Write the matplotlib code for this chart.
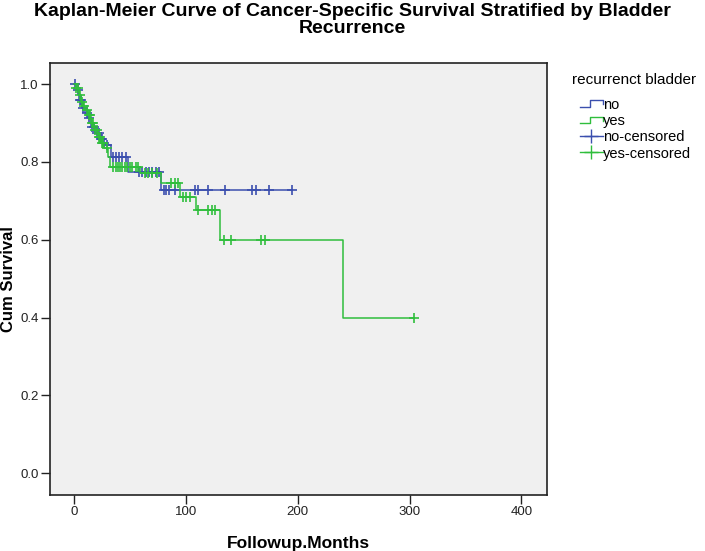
import numpy as np
import matplotlib.pyplot as plt
from matplotlib.lines import Line2D
from matplotlib.legend_handler import HandlerBase

plt.rcParams['font.family'] = ['Liberation Sans', 'DejaVu Sans']

# event times (months) and survival after each step
event_no = [2, 4, 7, 10, 12, 15, 19, 23, 26, 28, 33, 48, 78]
surv_no = [0.985, 0.96, 0.94, 0.925, 0.912, 0.89, 0.874, 0.86, 0.85, 0.843, 0.812, 0.775, 0.728]
cens_no = [1, 3, 5, 6, 8, 11, 13, 16, 18, 20, 22, 24, 25, 27, 29, 35, 37, 40, 43, 46,
           58, 61, 64, 67, 70, 73, 76, 80, 82, 85, 90, 108, 111, 120, 135, 159, 163, 174, 195]

event_yes = [1.5, 4, 6, 8, 10, 12, 15, 18, 21, 24, 27, 30, 32, 59, 78, 95, 109, 130, 240]
surv_yes = [0.99, 0.972, 0.955, 0.945, 0.934, 0.92, 0.9, 0.882, 0.865, 0.85, 0.835, 0.813,
            0.788, 0.771, 0.745, 0.71, 0.676, 0.60, 0.40]
cens_yes = [2, 3, 5, 7, 9, 11, 13, 14, 16, 17, 19, 20, 22, 23, 25, 26, 29, 35, 37, 39, 41,
            43, 45, 47, 50, 52, 55, 57, 63, 66, 70, 74, 87, 90, 93, 97, 100, 104, 111, 120,
            123, 126, 134, 140, 167, 171, 304]

c_no = '#3b4fae'
c_yes = '#2fbe3c'


def km_curve(events, surv, cens):
    s_all = np.array([1.0] + list(surv))
    t_end = max(max(cens), max(events))
    x = np.array([0.0] + list(events) + [t_end])
    y = np.append(s_all, s_all[-1])
    cy = s_all[np.searchsorted(events, cens, side='right')]
    return x, y, np.array(cens), cy


class StepHandler(HandlerBase):
    def create_artists(self, legend, orig_handle, xdescent, ydescent,
                       width, height, fontsize, trans):
        w, h = width, height
        x0 = -xdescent
        xs = [x0, x0 + 0.45 * w, x0 + 0.45 * w, x0 + w, x0 + w]
        ys = [0.2 * h, 0.2 * h, 0.85 * h, 0.85 * h, 0.45 * h]
        ln = Line2D(xs, ys, color=orig_handle.get_color(), lw=1.0, transform=trans)
        return [ln]


fig = plt.figure(figsize=(7.05, 5.51), dpi=100)
ax = fig.add_axes([0.0704, 0.1025, 0.7056, 0.7835])
ax.set_facecolor('#f0f0f0')

for ev, sv, cs, col in [(event_no, surv_no, cens_no, c_no), (event_yes, surv_yes, cens_yes, c_yes)]:
    x, y, cx, cy = km_curve(ev, sv, cs)
    ax.step(x, y, where='post', color=col, lw=1.1)
    ax.plot(cx, cy, ls='none', marker='+', color=col, markersize=6.5, markeredgewidth=1.2)

ax.set_xlim(-22, 423)
ax.set_ylim(-0.055, 1.055)
ax.set_xticks([0, 100, 200, 300, 400])
ax.set_yticks([0.0, 0.2, 0.4, 0.6, 0.8, 1.0])
ax.set_yticklabels(['%.1f' % v for v in [0.0, 0.2, 0.4, 0.6, 0.8, 1.0]])
ax.tick_params(direction='out', length=6.5, width=1, colors='#222222', labelsize=9.5, pad=1.5)
for sp in ax.spines.values():
    sp.set_color('#222222')
    sp.set_linewidth(1.2)

ax.set_xlabel('Followup.Months', fontsize=12.5, fontweight='bold', labelpad=13)
ax.set_ylabel('Cum Survival', fontsize=12, fontweight='bold', labelpad=3)

fig.text(0.5, 1 - 3 / 551, 'Kaplan-Meier Curve of Cancer-Specific Survival Stratified by Bladder\nRecurrence',
         ha='center', va='top', fontsize=14, fontweight='bold', linespacing=1.0)

fig.text(572 / 705, 1 - 80 / 551, 'recurrenct bladder', fontsize=11, va='center', ha='left')
handles = [Line2D([], [], color=c_no), Line2D([], [], color=c_yes),
           Line2D([], [], color=c_no, marker='+', markersize=10, lw=1),
           Line2D([], [], color=c_yes, marker='+', markersize=10, lw=1)]
labels = ['no', 'yes', 'no-censored', 'yes-censored']
fig.legend(handles, labels, loc='upper left', bbox_to_anchor=(580 / 705, 1 - 98 / 551),
           frameon=False, fontsize=10.5, handlelength=1.55, handletextpad=0.05,
           labelspacing=0.15, numpoints=1, borderpad=0, borderaxespad=0,
           handler_map={handles[0]: StepHandler(), handles[1]: StepHandler()})

fig.savefig('out.png', dpi=100)
